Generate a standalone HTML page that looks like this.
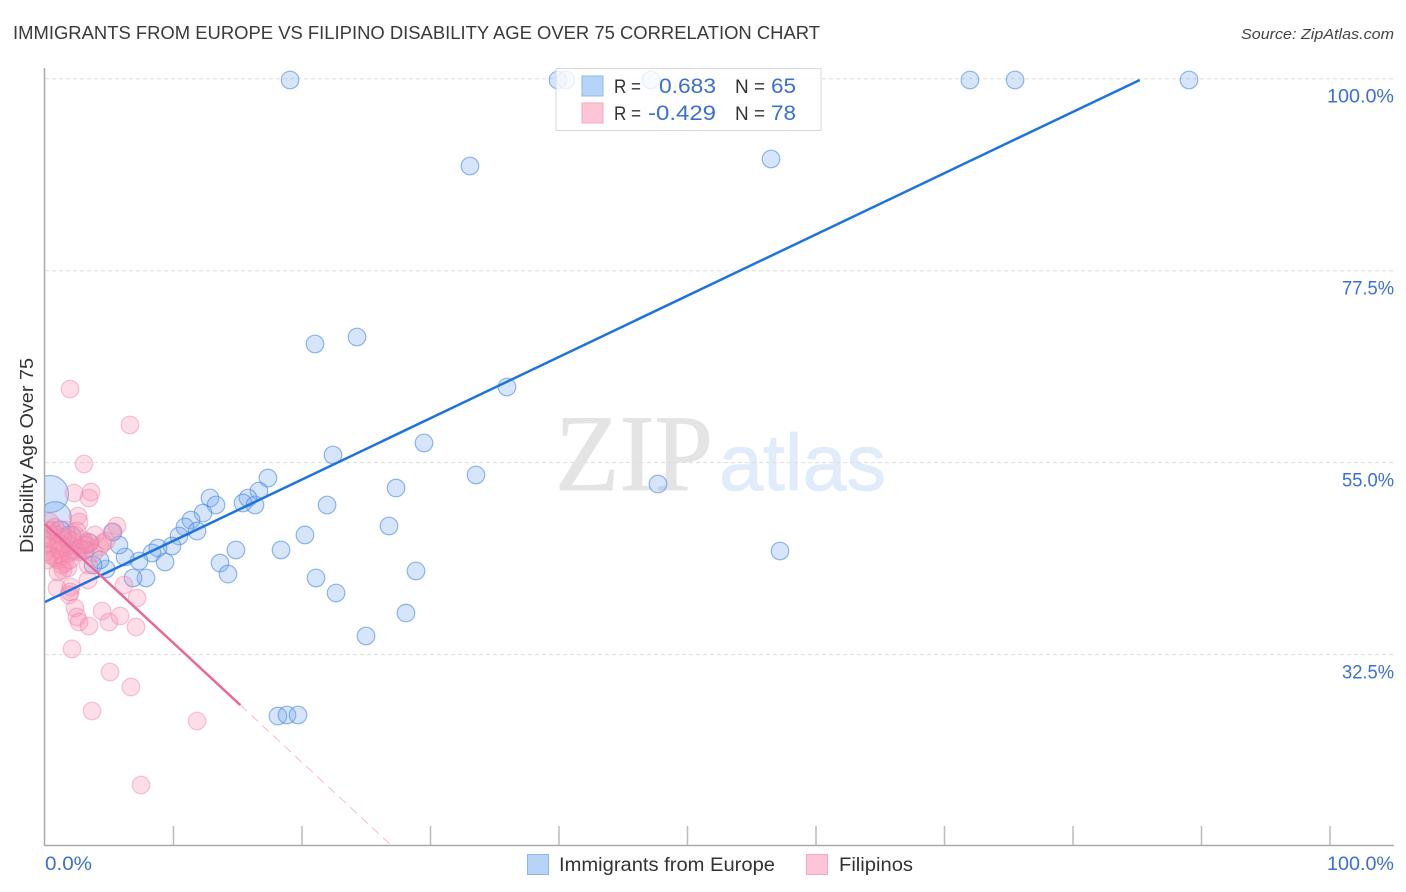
<!DOCTYPE html>
<html>
<head>
<meta charset="utf-8">
<title>Immigrants from Europe vs Filipino Disability Age Over 75 Correlation Chart</title>
<style>
html,body{margin:0;padding:0;background:#fff;}
svg{display:block;font-family:"Liberation Sans",sans-serif;}
</style>
</head>
<body>
<svg id="chart" width="1406" height="892" viewBox="0 0 1406 892" xmlns="http://www.w3.org/2000/svg">
  <defs>
    <clipPath id="plot-clip"><rect x="45" y="60" width="1361" height="786"/></clipPath>
  </defs>
  <rect width="1406" height="892" fill="#ffffff"/>
  <text x="13" y="39" font-size="18.5" fill="#3a3a3a" textLength="807" lengthAdjust="spacingAndGlyphs">IMMIGRANTS FROM EUROPE VS FILIPINO DISABILITY AGE OVER 75 CORRELATION CHART</text>
  <text x="1241" y="39" font-size="15" font-style="italic" fill="#444" textLength="153" lengthAdjust="spacingAndGlyphs">Source: ZipAtlas.com</text>
  <g>
    <text x="555" y="490" font-family="'Liberation Serif',serif" font-size="109" fill="#e4e4e4" stroke="#e4e4e4" stroke-width="0.8" textLength="158" lengthAdjust="spacingAndGlyphs">ZIP</text>
    <text x="719" y="490" font-size="80" fill="#e1ecfa" stroke="#e1ecfa" stroke-width="0.8" textLength="167" lengthAdjust="spacingAndGlyphs">atlas</text>
  </g>
  <g id="grid"></g>
  <g id="axes"></g>
  <g id="points" clip-path="url(#plot-clip)"></g>
  <g id="trends"></g>
  <text transform="translate(33,553) rotate(-90)" font-size="18" fill="#333" textLength="195" lengthAdjust="spacingAndGlyphs">Disability Age Over 75</text>
  <g>
    <rect x="556" y="68.500" width="265" height="62" fill="#ffffff" fill-opacity="0.8" stroke="#d8d8d8" stroke-width="1"/>
    <rect x="582" y="76" width="21" height="20" fill="#b8d3f8" stroke="#8db8ec" stroke-width="1"/>
    <rect x="582" y="103" width="21" height="20" fill="#fdc5d6" stroke="#f5a8c0" stroke-width="1"/>
    <text x="614" y="93" font-size="19.500" fill="#333" textLength="27" lengthAdjust="spacingAndGlyphs">R =</text>
    <text x="659" y="93" font-size="21" fill="#3b6fd4" textLength="57" lengthAdjust="spacingAndGlyphs">0.683</text>
    <text x="735" y="93" font-size="19.500" fill="#333" textLength="30" lengthAdjust="spacingAndGlyphs">N =</text>
    <text x="771" y="93" font-size="21" fill="#3b6fd4" textLength="25" lengthAdjust="spacingAndGlyphs">65</text>
    <text x="614" y="120" font-size="19.500" fill="#333" textLength="27" lengthAdjust="spacingAndGlyphs">R =</text>
    <text x="648" y="120" font-size="21" fill="#3b6fd4" textLength="68" lengthAdjust="spacingAndGlyphs">-0.429</text>
    <text x="735" y="120" font-size="19.500" fill="#333" textLength="30" lengthAdjust="spacingAndGlyphs">N =</text>
    <text x="771" y="120" font-size="21" fill="#3b6fd4" textLength="25" lengthAdjust="spacingAndGlyphs">78</text>
  </g>
  <g>
    <rect x="527.500" y="854.500" width="21" height="20" fill="#b8d3f8" stroke="#8db8ec" stroke-width="1"/>
    <text x="559" y="871" font-size="19.500" fill="#333" textLength="216" lengthAdjust="spacingAndGlyphs">Immigrants from Europe</text>
    <rect x="806.500" y="854.500" width="21" height="20" fill="#fdc5d6" stroke="#f5a8c0" stroke-width="1"/>
    <text x="839" y="871" font-size="19.500" fill="#333" textLength="74" lengthAdjust="spacingAndGlyphs">Filipinos</text>
  </g>
</svg>
<script>
const yGridValues = [100, 77.5, 55, 32.5];
const yTickLabels = ["100.0%", "77.5%", "55.0%", "32.5%"];
const xTickValues = [10, 20, 30, 40, 50, 60, 70, 80, 90, 100];
const xEndLabels = ["0.0%", "100.0%"];

const blueX = [19.07,39.92,40.54,47.16,71.98,75.49,89.03,33.07,56.50,21.01,24.28,35.95,29.49,22.41,33.54,47.70,17.35,27.32,12.84,16.65,15.80,15.41,16.34,13.31,21.95,12.30,11.36,10.89,11.83,26.77,10.43,9.88,8.79,8.33,9.34,7.32,6.23,5.76,20.23,18.37,14.86,57.20,13.62,14.24,21.09,28.87,22.65,28.09,24.98,18.13,18.83,19.69,7.86,6.85,4.75,4.28,3.74,5.29,0.39,0.78,1.17,1.95,3.35,3.11,2.10];
const blueY = [99.85,99.85,99.85,99.85,99.85,99.85,99.85,89.77,90.59,68.91,69.73,63.87,57.31,55.90,53.56,52.50,53.20,52.03,50.86,51.68,50.86,50.28,50.04,50.04,50.04,49.10,48.28,47.46,46.99,47.58,46.41,45.24,45.00,44.42,43.36,43.48,43.95,45.35,46.53,44.77,44.77,44.65,43.24,41.95,41.49,42.31,39.73,37.38,34.69,25.31,25.43,25.43,41.49,41.49,42.54,43.60,43.01,46.88,51.33,48.52,46.88,46.29,45.59,44.77,44.77];
const blueSize = [1,1,1,1,1,1,1,1,1,1,1,1,1,1,1,1,1,1,1,1,1,1,1,1,1,1,1,1,1,1,1,1,1,1,1,1,1,1,1,1,1,1,1,1,1,1,1,1,1,1,1,1,1,1,1,1,1,1,2.1,1.85,1.25,1.25,1.1,1,1];

const pinkX = [1.95,6.61,3.04,2.26,3.58,3.42,2.57,2.65,5.60,5.21,3.89,3.27,4.51,4.28,4.75,0.39,0.54,0.23,0.86,0.08,0.62,1.17,1.56,1.95,2.33,2.49,1.79,2.96,3.11,2.57,2.33,0.39,0.78,1.32,1.01,1.32,1.56,1.79,1.40,1.01,0.23,0.08,0.54,1.01,1.40,1.63,2.10,2.72,3.50,3.81,3.35,3.35,0.93,2.02,1.95,1.87,6.15,7.16,2.33,2.49,2.65,3.42,4.44,4.98,5.84,7.08,2.10,5.06,6.69,3.66,11.83,7.47,1.17,1.87,2.96,0.78,0.16,1.95];
const pinkY = [63.63,59.42,54.85,51.45,51.56,50.86,48.75,48.05,47.58,46.88,46.53,45.35,45.59,45.12,45.82,48.05,47.11,46.17,46.53,45.35,45.00,45.59,45.00,45.35,46.53,46.99,46.17,44.77,45.35,44.53,44.65,44.18,43.83,44.06,43.60,43.01,43.24,42.66,42.42,42.19,47.11,44.53,45.94,45.35,46.29,47.11,45.82,45.00,45.59,44.42,43.01,41.25,40.31,40.43,39.85,39.49,40.67,39.14,37.97,36.92,36.33,35.86,37.62,36.33,37.03,35.74,33.17,30.47,28.71,25.90,24.73,17.23,44.77,44.42,45.94,47.46,43.60,43.60];

const blueTrendX = [0, 85.2];
const blueTrendY = [38.67, 99.85];
const pinkSolidX = [0, 15.2];
const pinkSolidY = [47.81, 26.6];
const pinkDashX = [15.2, 27.0];
const pinkDashY = [26.6, 10.08];

const NS = "http://www.w3.org/2000/svg";
const xScale = v => 45 + v * 12.85;
const yScale = v => 932 - v * 8.533;
const mk = (parent, tag, attrs) => {
  const el = document.createElementNS(NS, tag);
  for (const k in attrs) el.setAttribute(k, attrs[k]);
  parent.appendChild(el);
  return el;
};
const tickFont = 19;
const tickWidth = s => s.length === 6 ? 67 : (s.length === 5 ? 52 : 47);

const gridG = document.getElementById("grid");
yGridValues.forEach((v, i) => {
  const line = mk(gridG, "line", {x1: 45, x2: 1394, y1: yScale(v), y2: yScale(v), stroke: "#dedede", "stroke-width": 1, "stroke-dasharray": "4 3"});
  
  
  const label = mk(gridG, "text", {x: 1394 - tickWidth(yTickLabels[i]), y: yScale(v) + 24, "font-size": tickFont, fill: "#3b6fd4", textLength: tickWidth(yTickLabels[i]), lengthAdjust: "spacingAndGlyphs"});
  
  
  label.textContent = yTickLabels[i];
});

const axesG = document.getElementById("axes");
const yAxis = mk(axesG, "line", {x1: 44.500, x2: 44.500, y1: 68, y2: 846, stroke: "#aaaaaa", "stroke-width": 1.500});


const xAxis = mk(axesG, "line", {x1: 44, x2: 1394, y1: 845.500, y2: 845.500, stroke: "#aaaaaa", "stroke-width": 1.500});


xTickValues.forEach(v => {
  const tick = mk(axesG, "line", {x1: xScale(v), x2: xScale(v), y1: 826, y2: 845, stroke: "#bbbbbb", "stroke-width": 1.500});
  
  
});
const xStart = mk(axesG, "text", {x: 45, y: 870, "font-size": tickFont, fill: "#3b6fd4", textLength: tickWidth(xEndLabels[0]), lengthAdjust: "spacingAndGlyphs"});


xStart.textContent = xEndLabels[0];
const xEnd = mk(axesG, "text", {x: 1394 - tickWidth(xEndLabels[1]), y: 870, "font-size": tickFont, fill: "#3b6fd4", textLength: tickWidth(xEndLabels[1]), lengthAdjust: "spacingAndGlyphs"});


xEnd.textContent = xEndLabels[1];

const pointsG = document.getElementById("points");
blueX.forEach((v, i) => {
  const c = mk(pointsG, "circle", {cx: xScale(v), cy: yScale(blueY[i]), r: 8.8 * blueSize[i], fill: "#77a9ee", "fill-opacity": 0.3, stroke: "#4a8ae0", "stroke-opacity": 0.6, "stroke-width": 1.200});
  
  
});
pinkX.forEach((v, i) => {
  const c = mk(pointsG, "circle", {cx: xScale(v), cy: yScale(pinkY[i]), r: 8.8, fill: "#f78fb0", "fill-opacity": 0.3, stroke: "#f07fa5", "stroke-opacity": 0.45, "stroke-width": 1.200});
  
  
});

const trendsG = document.getElementById("trends");
const blueLine = mk(trendsG, "line", {x1: xScale(blueTrendX[0]), y1: yScale(blueTrendY[0]), x2: xScale(blueTrendX[1]), y2: yScale(blueTrendY[1]), stroke: "#1f74dc", "stroke-width": 2.500});


const pinkLine = mk(trendsG, "line", {x1: xScale(pinkSolidX[0]), y1: yScale(pinkSolidY[0]), x2: xScale(pinkSolidX[1]), y2: yScale(pinkSolidY[1]), stroke: "#e9689a", "stroke-width": 2.500});


const pinkDash = mk(trendsG, "line", {x1: xScale(pinkDashX[0]), y1: yScale(pinkDashY[0]), x2: xScale(pinkDashX[1]), y2: yScale(pinkDashY[1]), stroke: "#f5bcd0", "stroke-width": 1, "stroke-dasharray": "9 6"});


</script>
</body>
</html>
